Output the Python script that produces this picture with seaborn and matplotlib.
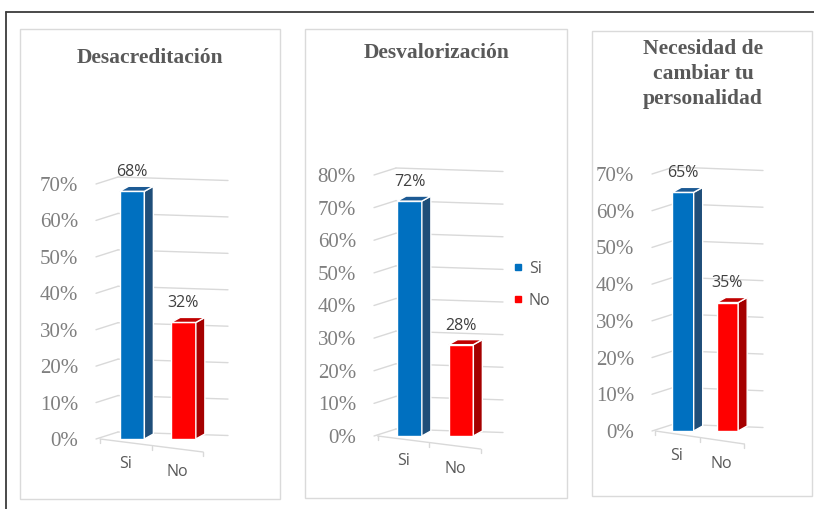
import matplotlib
matplotlib.use("Agg")
import matplotlib.pyplot as plt
import seaborn as sns
import numpy as np
import pandas as pd
from matplotlib.patches import Polygon, Rectangle
from matplotlib.lines import Line2D
from matplotlib.ticker import PercentFormatter

# ---------------- data ----------------
categories = ["Si", "No"]
titles = ["Desacreditación", "Desvalorización", "Necesidad de\ncambiar tu\npersonalidad"]
values_desacreditacion = [0.68, 0.32]
values_desvalorizacion = [0.72, 0.28]
values_personalidad = [0.65, 0.35]
axis_max = [0.70, 0.80, 0.70]
legend_labels = ["Si", "No"]

# ---------------- style ----------------
front_colors = ["#0070C0", "#FF0000"]
side_colors = ["#1F4E79", "#A50000"]
top_colors = ["#1C5A94", "#C00000"]
grid_color = "#D9D9D9"
serif = "Liberation Serif"
sans = "Open Sans"

sns.set_style("white")
W, H = 814, 509
fig = plt.figure(figsize=(W / 100, H / 100), dpi=100)
fig.patch.set_facecolor("white")


def px_rect(l, t, r, b):
    return [l / W, 1 - b / H, (r - l) / W, (b - t) / H]


# outer frame (left + top)
fig.add_artist(Line2D([6 / W, 6 / W], [0, 1 - 12 / H], transform=fig.transFigure, color="#3C3C3C", lw=1.3))
fig.add_artist(Line2D([6 / W, 1], [1 - 12 / H, 1 - 12 / H], transform=fig.transFigure, color="#3C3C3C", lw=1.3))

# panel boxes
panel_boxes = [(20, 29, 280, 499), (305, 29, 567, 498), (592, 31, 812, 496)]
for (l, t, r, b) in panel_boxes:
    fig.add_artist(Rectangle((l / W, 1 - b / H), (r - l) / W, (b - t) / H, transform=fig.transFigure,
                             fill=False, ec="#DADADA", lw=1.0))

# layout per panel: wall-left px, back-right px, zero px, top px, center1 px, center2 px
layouts = [
    dict(xl=96, xr=228, y0=439, yt=184, c1=132.0, c2=183.5, title=(150, 58)),
    dict(xl=374, xr=503, y0=436, yt=175, c1=409.5, c2=461.0, title=(437, 53)),
    dict(xl=652, xr=763, y0=431, yt=174, c1=683.0, c2=727.5, title=(703, 74)),
]
series = [values_desacreditacion, values_desvalorizacion, values_personalidad]

for k, (vals, lay, ymax, title) in enumerate(zip(series, layouts, axis_max, titles)):
    ax = fig.add_axes(px_rect(lay["xl"], lay["yt"], lay["xr"], lay["y0"]))
    ax.set_facecolor("none")
    df = pd.DataFrame({"cat": categories, "val": vals})
    sns.barplot(data=df, x="cat", y="val", hue="cat", palette=front_colors, saturation=1, width=0.48,
                edgecolor="white", linewidth=1.0, ax=ax, legend=False, zorder=3)

    s = lay["c2"] - lay["c1"]                  # px per category
    py = (lay["y0"] - lay["yt"]) / ymax        # px per unit
    x0 = (lay["xl"] - lay["c1"]) / s
    x1 = (lay["xr"] - lay["c1"]) / s
    ax.set_xlim(x0, x1)
    ax.set_ylim(0, ymax)

    # 3D side & top faces from the drawn bars
    ddx, ddy = 9 / s, 5 / py
    for i, p in enumerate(list(ax.patches)):
        bx, bw, bh = p.get_x(), p.get_width(), p.get_height()
        side = Polygon([(bx + bw, 0), (bx + bw + ddx, ddy), (bx + bw + ddx, bh + ddy), (bx + bw, bh)],
                       closed=True, fc=side_colors[i], ec="white", lw=1.0, zorder=3)
        top = Polygon([(bx, bh), (bx + ddx, bh + ddy), (bx + bw + ddx, bh + ddy), (bx + bw, bh)],
                      closed=True, fc=top_colors[i], ec="white", lw=1.0, zorder=3)
        ax.add_patch(side)
        ax.add_patch(top)

    # perspective gridlines: left wall + back wall
    ticks = np.round(np.arange(0, ymax + 1e-9, 0.1), 2)
    wx, wy, drop = 22 / s, 7 / py, 3.5 / py
    for v in ticks:
        ax.plot([x0, x0 + wx], [v, v + wy], color=grid_color, lw=1.0, clip_on=False, zorder=1)
        ax.plot([x0 + wx, x1], [v + wy, v + wy - drop], color=grid_color, lw=1.0, clip_on=False, zorder=1)
    # floor front edge with ticks
    f0, f1 = -0.62, 1.38
    fdrop = 13 / py
    ax.plot([f0, f1], [0, -fdrop], color=grid_color, lw=1.0, clip_on=False, zorder=1)
    for fx in [f0, (f0 + f1) / 2, f1]:
        fy = -fdrop * (fx - f0) / (f1 - f0)
        ax.plot([fx, fx], [fy, fy - 4 / py], color=grid_color, lw=1.0, clip_on=False, zorder=1)

    # axes cosmetics
    ax.set_yticks(ticks)
    ax.yaxis.set_major_formatter(PercentFormatter(1.0, decimals=0))
    ax.tick_params(axis="y", length=0, pad=13, labelsize=15, labelcolor="#7F7F7F")
    for lbl in ax.get_yticklabels():
        lbl.set_fontfamily(serif)
    ax.set_xticks([])
    ax.set_xlabel("")
    ax.set_ylabel("")
    for sp in ax.spines.values():
        sp.set_visible(False)

    # data labels and category labels
    for i, (c, v) in enumerate(zip(categories, vals)):
        ax.annotate(f"{v:.0%}", xy=(i, v), xytext=(0, 19 * 0.72), textcoords="offset points",
                    ha="center", va="center", fontsize=11.5, color="#404040", family=sans,
                    annotation_clip=False)
        ax.annotate(c, xy=(i, 0), xytext=(-6 * 0.72, -(25 + 8 * i) * 0.72), textcoords="offset points",
                    ha="center", va="center", fontsize=11.5, color="#595959", family=sans,
                    annotation_clip=False)

    # title
    tx, ty = lay["title"]
    fig.text(tx / W, 1 - ty / H, title, ha="center", va="center", fontsize=15.5, fontweight="bold",
             family=serif, color="#595959", linespacing=1.32)

    if k == 1:
        handles = [Line2D([], [], marker="s", ls="", color=c, markersize=4.5) for c in front_colors]
        leg = fig.legend(handles, legend_labels, loc="center left", bbox_to_anchor=(512 / W, 1 - 285 / H),
                         frameon=False, handlelength=0.8, handletextpad=0.25, labelspacing=1.0,
                         borderpad=0, borderaxespad=0, prop={"family": sans, "size": 11.5})
        for t in leg.get_texts():
            t.set_color("#595959")

fig.savefig("out.png", dpi=100, facecolor="white")
